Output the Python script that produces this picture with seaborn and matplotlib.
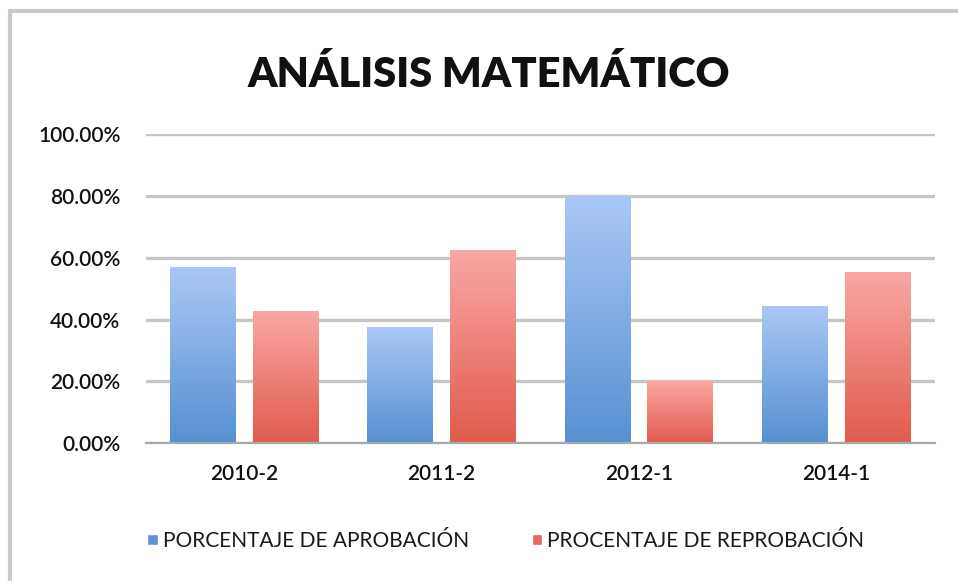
import numpy as np
import pandas as pd
import matplotlib
matplotlib.use("Agg")
import matplotlib.pyplot as plt
import seaborn as sns
from matplotlib.colors import LinearSegmentedColormap
from matplotlib.lines import Line2D
from matplotlib.patches import Patch
from matplotlib.ticker import PercentFormatter

# data
periodos = ["2010-2", "2011-2", "2012-1", "2014-1"]
aprobacion = [0.5714, 0.375, 0.80, 0.4444]
reprobacion = [0.4286, 0.625, 0.20, 0.5556]
series = ["PORCENTAJE DE APROBACIÓN", "PROCENTAJE DE REPROBACIÓN"]
titulo = "ANÁLISIS MATEMÁTICO"

df = pd.DataFrame({
    "periodo": periodos * 2,
    "serie": [series[0]] * len(periodos) + [series[1]] * len(periodos),
    "valor": aprobacion + reprobacion,
})

# excel-like gradient fills (bottom dark -> top light)
grads = [("#5690d2", "#abc8f6"), ("#e05b4c", "#faa8a4")]
solid = ["#5b95d6", "#e8675c"]

sns.set_theme(style="white")
plt.rcParams["font.family"] = ["Lato", "DejaVu Sans"]

fig = plt.figure(figsize=(9.58, 5.81), dpi=100)
ax = fig.add_axes([0.152, 0.237, 0.824, 0.532])

sns.barplot(data=df, x="periodo", y="valor", hue="serie", palette=solid,
            width=0.84, gap=0.205, legend=False, ax=ax)

grad = np.linspace(0, 1, 256).reshape(-1, 1)
for cont, (c0, c1) in zip(ax.containers, grads):
    cmap = LinearSegmentedColormap.from_list("g", [c0, c1])
    for bar in cont:
        x0, y0 = bar.get_x(), bar.get_y()
        w, h = bar.get_width(), bar.get_height()
        im = ax.imshow(grad, extent=[x0, x0 + w, y0, y0 + h], cmap=cmap,
                       aspect="auto", origin="lower", zorder=3)
        im.set_clip_path(bar)
        bar.set_facecolor("none")
        bar.set_edgecolor("none")

ax.set_xlim(-0.5, len(periodos) - 0.5)
ax.set_ylim(0, 1.0)
ax.set_yticks(np.arange(0, 1.01, 0.2))
ax.yaxis.set_major_formatter(PercentFormatter(1.0, decimals=2))
ax.yaxis.grid(True, color="#c6c6c6", linewidth=2.4)
ax.set_axisbelow(True)
for s in ["left", "right", "top"]:
    ax.spines[s].set_visible(False)
ax.spines["bottom"].set_color("#a8a8a8")
ax.spines["bottom"].set_linewidth(1.6)
ax.spines["bottom"].set_zorder(4)
ax.set_xlabel("")
ax.set_ylabel("")
ax.tick_params(axis="y", length=0, pad=18, labelsize=15, labelcolor="#111111")
ax.tick_params(axis="x", length=0, pad=15, labelsize=15, labelcolor="#111111")
for lbl in ax.get_xticklabels() + ax.get_yticklabels():
    lbl.set_fontweight("semibold")

fig.text(0.51, 0.872, titulo, ha="center", va="center", fontsize=30,
         fontweight="heavy", color="#111111")

handles = [Patch(facecolor=c) for c in solid]
fig.legend(handles, series, loc="center", bbox_to_anchor=(0.528, 0.069),
           ncol=2, frameon=False, fontsize=15, handlelength=0.5,
           handleheight=0.5, handletextpad=0.25, columnspacing=3.0,
           labelcolor="#1a1a1a")

# grey frame on the left and top edges
fig.add_artist(Line2D([9.5 / 958, 1], [1 - 11 / 581] * 2,
                      transform=fig.transFigure, color="#c9c9c9", lw=3))
fig.add_artist(Line2D([9.5 / 958] * 2, [0, 1 - 11 / 581],
                      transform=fig.transFigure, color="#c9c9c9", lw=3))

fig.savefig("out.png", dpi=100)
